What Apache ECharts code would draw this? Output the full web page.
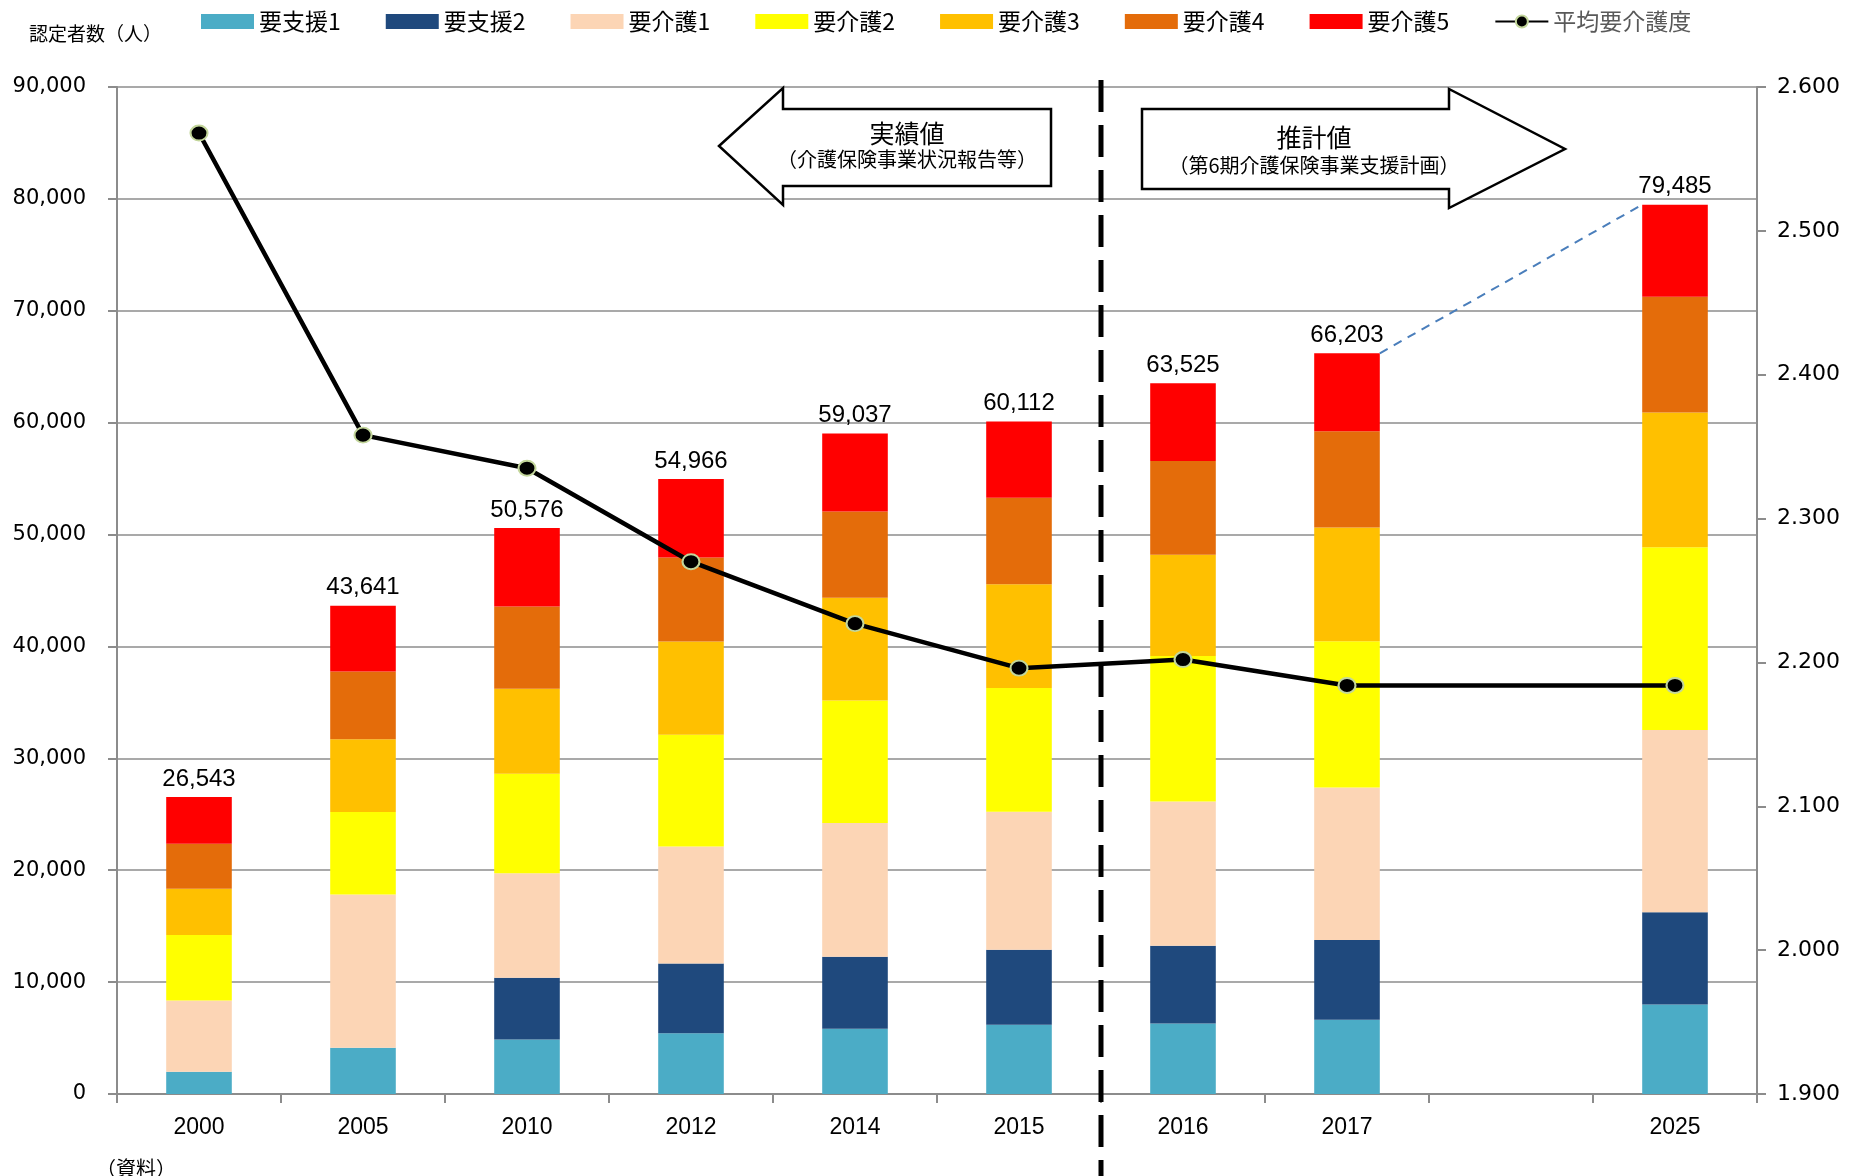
<!DOCTYPE html>
<html><head><meta charset="utf-8">
<script src="https://cdn.jsdelivr.net/npm/echarts@6/dist/echarts.min.js"></script>
<style>html,body{margin:0;padding:0;background:#fff}#c{width:1851px;height:1176px}</style>
</head><body><div id="c"></div>
<script>
const categories = ['2000','2005','2010','2012','2014','2015','2016','2017','','2025'];
const shien1 = [1980, 4140, 4860, 5430, 5830, 6190, 6300, 6640, null, 7990];
const shien2 = [0, 0, 5520, 6230, 6430, 6700, 6940, 7120, null, 8250];
const kaigo1 = [6370, 13700, 9350, 10460, 11970, 12340, 12900, 13640, null, 16290];
const kaigo2 = [5860, 7370, 8900, 9980, 10940, 11060, 13000, 13070, null, 16340];
const kaigo3 = [4140, 6500, 7600, 8340, 9180, 9260, 9060, 10160, null, 12030];
const kaigo4 = [4010, 6060, 7330, 7500, 7710, 7740, 8380, 8600, null, 10360];
const kaigo5 = [4183, 5871, 7016, 7026, 6977, 6822, 6945, 6973, null, 8225];
const totals = [26543, 43641, 50576, 54966, 59037, 60112, 63525, 66203, null, 79485];
const avgLevel = [2.568, 2.358, 2.335, 2.270, 2.227, 2.196, 2.202, 2.184, null, 2.184];
const leftTicks = {min: 0, max: 90000, interval: 10000};
const rightTicks = {min: 1.9, max: 2.6, interval: 0.1};

const barNames = ['要支援1','要支援2','要介護1','要介護2','要介護3','要介護4','要介護5'];
const barData = [shien1, shien2, kaigo1, kaigo2, kaigo3, kaigo4, kaigo5];
const barColors = ['#4bacc6','#1f497d','#fcd5b5','#ffff00','#ffc000','#e46c0a','#ff0000'];
const lineName = '平均要介護度';

function commas(v){ return String(v).replace(/\B(?=(\d{3})+(?!\d))/g, ','); }

const chart = echarts.init(document.getElementById('c'));
const gridColor = '#8c8c8c';
const cjk = '"Noto Sans CJK JP", sans-serif';

const series = barNames.map((n, i) => ({
  name: n, type: 'bar', stack: 'total', barWidth: '40%',
  data: barData[i], itemStyle: {color: barColors[i]},
  label: i === 6 ? {
    show: true, position: 'top', distance: 6,
    fontFamily: '"Liberation Sans", Arial, sans-serif', fontSize: 24, color: '#000',
    formatter: p => totals[p.dataIndex] == null ? '' : commas(totals[p.dataIndex])
  } : {show: false},
  emphasis: {disabled: true}, z: 2
}));

series.push({
  name: 'series-line', type: 'custom', xAxisIndex: 0, yAxisIndex: 0, z: 3,
  silent: true,
  data: [[7, totals[7], 9, totals[9]]],
  encode: {x: 0, y: 1},
  renderItem: (params, api) => {
    const p1 = api.coord([api.value(0), api.value(1)]);
    const p2 = api.coord([api.value(2), api.value(3)]);
    const half = api.size([1, 0])[0] * 0.4 / 2;
    return {
      type: 'line',
      shape: {x1: p1[0] + half, y1: p1[1], x2: p2[0] - half, y2: p2[1]},
      style: {stroke: '#4a7ebb', lineWidth: 2, lineDash: [9, 7]}
    };
  }
});

series.push({
  name: lineName, type: 'line', yAxisIndex: 1, data: avgLevel, connectNulls: true,
  symbol: 'circle', symbolSize: [17, 15],
  lineStyle: {color: '#000', width: 4.5},
  itemStyle: {color: '#000', borderColor: '#c3d69b', borderWidth: 2},
  emphasis: {disabled: true}, z: 5
});

chart.setOption({
  animation: false,
  backgroundColor: '#fff',
  grid: {left: 117, right: 94, top: 87, bottom: 82, containLabel: false},
  legend: {
    top: 5, left: 196, itemWidth: 53, itemHeight: 15, itemGap: 45,
    textStyle: {fontFamily: cjk, fontSize: 23, color: '#000'},
    data: barNames.map(n => ({name: n, icon: 'rect'})).concat([{name: lineName, textStyle: {color: '#595959'}}])
  },
  xAxis: {
    type: 'category', data: categories,
    axisLine: {lineStyle: {color: gridColor, width: 2}},
    axisTick: {show: true, length: 9, lineStyle: {color: gridColor, width: 2}},
    axisLabel: {margin: 22, fontFamily: '"Liberation Sans", Arial, sans-serif', fontSize: 23, color: '#000'}
  },
  yAxis: [{
    type: 'value', min: leftTicks.min, max: leftTicks.max, interval: leftTicks.interval,
    axisLine: {show: true, lineStyle: {color: gridColor, width: 2}},
    axisTick: {show: true, length: 9, lineStyle: {color: gridColor, width: 2}},
    splitLine: {lineStyle: {color: gridColor, width: 1.5}},
    axisLabel: {margin: 31, fontFamily: '"DejaVu Sans", Verdana, sans-serif', fontSize: 21, color: '#000', formatter: v => commas(v)}
  }, {
    type: 'value', min: rightTicks.min, max: rightTicks.max, interval: rightTicks.interval,
    position: 'right',
    axisLine: {show: true, lineStyle: {color: gridColor, width: 2}},
    axisTick: {show: true, length: 9, lineStyle: {color: gridColor, width: 2}},
    splitLine: {show: false},
    axisLabel: {margin: 20, fontFamily: '"DejaVu Sans", Verdana, sans-serif', fontSize: 22, color: '#000', formatter: v => v.toFixed(3)}
  }],
  series: series
});

const x5 = chart.convertToPixel({xAxisIndex: 0}, categories[5]);
const x6 = chart.convertToPixel({xAxisIndex: 0}, categories[6]);
const divX = (x5 + x6) / 2;

const arrowStyle = {fill: '#fff', stroke: '#000', lineWidth: 2.5, lineJoin: 'miter'};
chart.setOption({
  graphic: [
    {type: 'text', left: 29, top: 24, style: {text: '認定者数（人）', font: '19px "Noto Sans CJK JP"', fill: '#000'}},
    {type: 'polygon', z: 10, shape: {points: [[719,146],[783,88],[783,109],[1051,109],[1051,186],[783,186],[783,205]]}, style: arrowStyle},
    {type: 'text', z: 11, x: 907, y: 133, style: {text: '実績値', font: '25px "Noto Sans CJK JP"', fill: '#000', align: 'center', verticalAlign: 'middle'}},
    {type: 'text', z: 11, x: 907, y: 159, style: {text: '（介護保険事業状況報告等）', font: '20px "Noto Sans CJK JP"', fill: '#000', align: 'center', verticalAlign: 'middle'}},
    {type: 'polygon', z: 10, shape: {points: [[1142,109],[1449,109],[1449,89],[1565,149],[1449,208],[1449,189],[1142,189]]}, style: arrowStyle},
    {type: 'text', z: 11, x: 1314, y: 137, style: {text: '推計値', font: '25px "Noto Sans CJK JP"', fill: '#000', align: 'center', verticalAlign: 'middle'}},
    {type: 'text', z: 11, x: 1314, y: 165, style: {text: '（第6期介護保険事業支援計画）', font: '20px "Noto Sans CJK JP"', fill: '#000', align: 'center', verticalAlign: 'middle'}},
    {type: 'line', z: 12, shape: {x1: divX, y1: 80, x2: divX, y2: 1176}, style: {stroke: '#000', lineWidth: 5, lineDash: [32, 13]}},
    {type: 'text', left: 96, top: 1158, style: {text: '（資料）', font: '20px "Noto Sans CJK JP"', fill: '#000'}}
  ]
});
</script></body></html>
